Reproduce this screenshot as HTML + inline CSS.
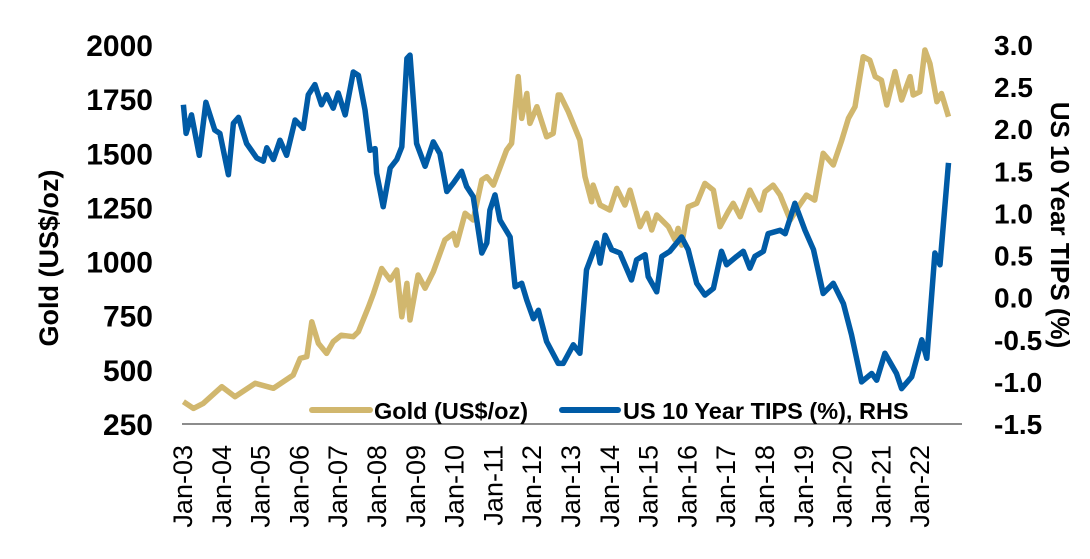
<!DOCTYPE html>
<html><head><meta charset="utf-8"><style>
body{margin:0;background:#fff;}
svg{display:block;font-family:"Liberation Sans",Arial,sans-serif;}
</style></head><body>
<svg id="chart" width="1090" height="559" viewBox="0 0 1090 559" xmlns="http://www.w3.org/2000/svg"></svg>
<script>
const goldDates=[2003.01,2003.27,2003.52,2004.0,2004.34,2004.86,2005.33,2005.84,2006.02,2006.19,2006.32,2006.49,2006.70,2006.87,2007.08,2007.39,2007.52,2007.78,2007.91,2008.12,2008.34,2008.51,2008.64,2008.77,2008.85,2009.06,2009.24,2009.45,2009.75,2009.97,2010.05,2010.27,2010.48,2010.70,2010.83,2011.0,2011.34,2011.47,2011.64,2011.73,2011.86,2011.94,2012.12,2012.37,2012.54,2012.67,2012.72,2012.93,2013.23,2013.36,2013.53,2013.57,2013.75,2014.0,2014.18,2014.39,2014.52,2014.78,2014.95,2015.08,2015.21,2015.51,2015.68,2015.76,2015.85,2016.02,2016.24,2016.45,2016.67,2016.84,2017.05,2017.18,2017.36,2017.61,2017.87,2018.0,2018.21,2018.39,2018.65,2018.86,2019.07,2019.28,2019.50,2019.76,2019.98,2020.15,2020.32,2020.53,2020.70,2020.84,2021.0,2021.14,2021.35,2021.52,2021.74,2021.82,2021.99,2022.12,2022.25,2022.43,2022.55,2022.73];
const goldValues=[353,322,345,422,376,438,415,476,553,561,722,622,576,630,660,653,676,791,853,968,915,961,745,899,730,938,877,953,1100,1130,1076,1223,1192,1377,1392,1353,1515,1546,1854,1661,1776,1638,1715,1576,1592,1769,1769,1692,1561,1392,1276,1353,1261,1238,1338,1261,1330,1161,1223,1146,1215,1161,1100,1153,1076,1253,1269,1361,1330,1161,1230,1269,1207,1330,1238,1323,1353,1307,1192,1253,1307,1284,1500,1446,1561,1661,1715,1946,1930,1854,1838,1723,1877,1746,1854,1769,1784,1977,1915,1738,1776,1669];
const tipsDates=[2003.01,2003.08,2003.22,2003.42,2003.59,2003.82,2003.95,2004.17,2004.30,2004.43,2004.64,2004.90,2005.07,2005.16,2005.33,2005.50,2005.67,2005.89,2006.10,2006.23,2006.40,2006.57,2006.70,2006.87,2007.0,2007.18,2007.39,2007.52,2007.69,2007.82,2007.95,2007.99,2008.16,2008.34,2008.51,2008.64,2008.77,2008.85,2009.02,2009.24,2009.45,2009.62,2009.80,2009.97,2010.18,2010.31,2010.48,2010.70,2010.83,2010.91,2011.04,2011.17,2011.43,2011.56,2011.73,2011.86,2012.03,2012.16,2012.37,2012.67,2012.80,2013.06,2013.23,2013.40,2013.66,2013.75,2013.88,2014.05,2014.26,2014.56,2014.69,2014.91,2014.99,2015.21,2015.34,2015.55,2015.85,2016.02,2016.24,2016.45,2016.67,2016.88,2017.01,2017.27,2017.44,2017.61,2017.74,2017.96,2018.08,2018.39,2018.52,2018.77,2019.03,2019.25,2019.50,2019.76,2020.02,2020.23,2020.49,2020.75,2020.88,2021.09,2021.39,2021.52,2021.78,2022.04,2022.17,2022.38,2022.51,2022.73];
const tipsValues=[2.29,1.95,2.17,1.69,2.32,1.99,1.95,1.46,2.07,2.14,1.83,1.66,1.62,1.78,1.64,1.87,1.69,2.11,2.01,2.41,2.53,2.29,2.41,2.25,2.43,2.17,2.68,2.64,2.23,1.75,1.77,1.48,1.08,1.54,1.64,1.79,2.84,2.88,1.83,1.56,1.85,1.71,1.26,1.36,1.50,1.32,1.20,0.53,0.65,1.04,1.22,0.92,0.72,0.13,0.17,-0.03,-0.25,-0.15,-0.52,-0.78,-0.78,-0.56,-0.66,0.33,0.65,0.41,0.74,0.57,0.53,0.21,0.45,0.51,0.25,0.07,0.49,0.55,0.72,0.57,0.17,0.03,0.11,0.55,0.39,0.49,0.55,0.35,0.49,0.55,0.76,0.80,0.76,1.12,0.80,0.57,0.05,0.17,-0.07,-0.44,-1.00,-0.90,-0.98,-0.66,-0.90,-1.08,-0.94,-0.50,-0.72,0.53,0.39,1.60];
const leftTicks=[250,500,750,1000,1250,1500,1750,2000];
const rightTicks=["-1.5","-1.0","-0.5","0.0","0.5","1.0","1.5","2.0","2.5","3.0"];
const xTickLabels=["Jan-03","Jan-04","Jan-05","Jan-06","Jan-07","Jan-08","Jan-09","Jan-10","Jan-11","Jan-12","Jan-13","Jan-14","Jan-15","Jan-16","Jan-17","Jan-18","Jan-19","Jan-20","Jan-21","Jan-22"];

const NS="http://www.w3.org/2000/svg";
const svg=document.getElementById('chart');
const X0=183,PXY=38.8,YTOP=45,YBOT=424;
const xs=t=>X0+(t-2003)*PXY;
const yL=v=>YBOT-(v-250)*(YBOT-YTOP)/1750;
const yR=v=>YBOT-(v+1.5)*(YBOT-YTOP)/4.5;
function mk(tag,attrs,txt){const e=document.createElementNS(NS,tag);for(const k in attrs)e.setAttribute(k,attrs[k]);if(txt!==undefined)e.textContent=txt;svg.appendChild(e);return e;}

const axis=mk('line',{x1:182,y1:424,x2:962,y2:424,stroke:'#8c8c8c','stroke-width':2});



leftTicks.forEach(v=>{
  const t=mk('text',{x:153,y:yL(v)+11,'text-anchor':'end','font-size':30,'font-weight':'bold',fill:'#000'},String(v));
  
  
});
rightTicks.forEach(s=>{
  const t=mk('text',{x:994,y:yR(parseFloat(s))+10,'text-anchor':'start','font-size':28,'font-weight':'bold',fill:'#000'},s);
  
  
});
xTickLabels.forEach((s,i)=>{
  const x=xs(2003+i);
  const t=mk('text',{x:0,y:0,transform:`translate(${x+9},445) rotate(-90)`,'text-anchor':'end','font-size':27,fill:'#000'},s);
  
  
});
const lt=mk('text',{x:0,y:0,transform:'translate(58,258) rotate(-90)','text-anchor':'middle','font-size':27,'font-weight':'bold',fill:'#000'},'Gold (US$/oz)');


const rt=mk('text',{x:0,y:0,transform:'translate(1051,225) rotate(90)','text-anchor':'middle','font-size':26,'font-weight':'bold',fill:'#000'},'US 10 Year TIPS (%)');



const gp=mk('polyline',{points:goldDates.map((d,i)=>xs(d).toFixed(1)+','+yL(goldValues[i]).toFixed(1)).join(' '),fill:'none',stroke:'#D1B76E','stroke-width':5.5,'stroke-linejoin':'round'});


const tp=mk('polyline',{points:tipsDates.map((d,i)=>xs(d).toFixed(1)+','+yR(tipsValues[i]).toFixed(1)).join(' '),fill:'none',stroke:'#005BA6','stroke-width':5.5,'stroke-linejoin':'round'});



const lg1=mk('line',{x1:312,y1:410,x2:370,y2:410,stroke:'#D1B76E','stroke-width':6,'stroke-linecap':'round'});


const lgt1=mk('text',{x:374,y:419,'font-size':23.5,'font-weight':'bold',fill:'#000'},'Gold (US$/oz)');


const lg2=mk('line',{x1:562,y1:410,x2:618,y2:410,stroke:'#005BA6','stroke-width':6,'stroke-linecap':'round'});


const lgt2=mk('text',{x:623,y:419,'font-size':23.5,'font-weight':'bold',fill:'#000'},'US 10 Year TIPS (%), RHS');


</script>
</body></html>
